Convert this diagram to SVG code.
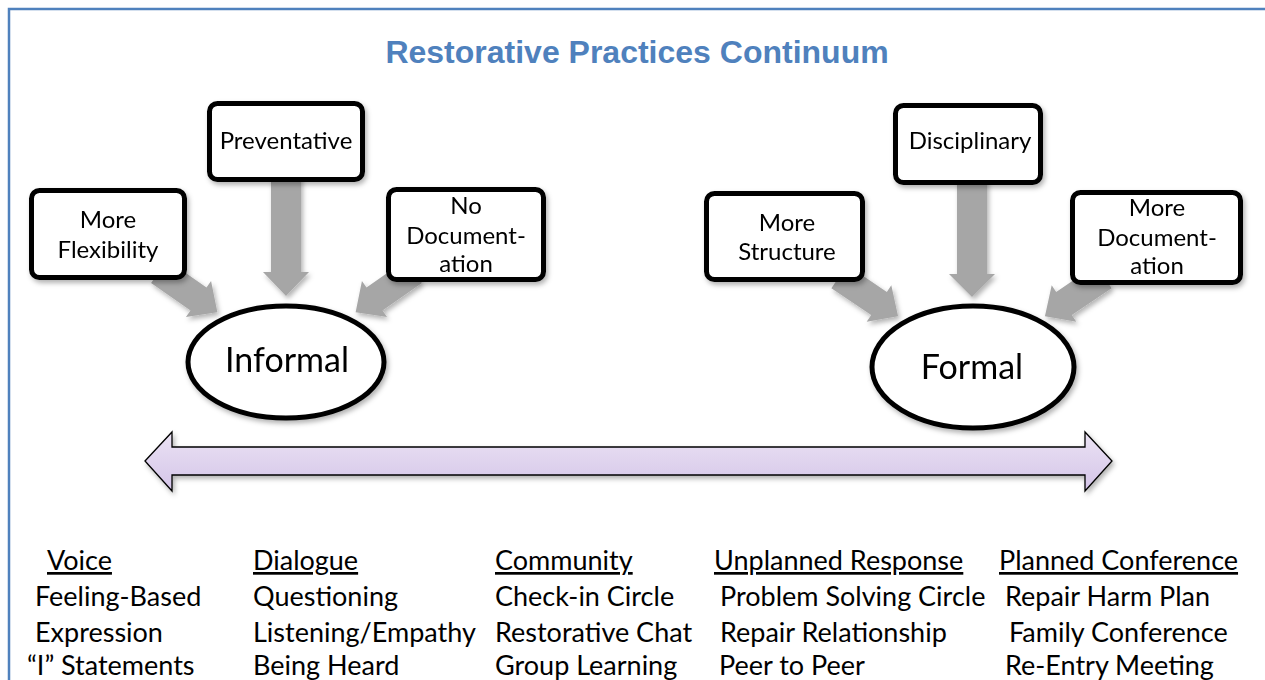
<svg xmlns="http://www.w3.org/2000/svg" width="1265" height="680" viewBox="0 0 1265 680">
<style>
.box{fill:#fff;stroke:#000;stroke-width:5}
.ell{fill:#fff;stroke:#000;stroke-width:5}
.arr{fill:#a6a6a6}
.bt{font-family:Lato,"Open Sans",sans-serif;font-size:24px;fill:#000;text-anchor:middle}
.et{font-family:Lato,"Open Sans",sans-serif;font-size:34px;fill:#000;text-anchor:middle}
.lt{font-family:Lato,"Open Sans",sans-serif;font-size:27px;fill:#000}
.hd{text-decoration:underline}
.title{font-family:"Liberation Sans",Arial,sans-serif;font-weight:bold;font-size:32px;fill:#4f81bd;text-anchor:middle}
</style>
<defs>
<filter id="sh" x="-20%" y="-20%" width="150%" height="150%">
<feDropShadow dx="2" dy="3" stdDeviation="2.5" flood-color="#000" flood-opacity="0.3"/>
</filter>
<linearGradient id="lav" x1="0" y1="0" x2="0" y2="1">
<stop offset="0" stop-color="#ebe3f4"/>
<stop offset="1" stop-color="#d4c4e8"/>
</linearGradient>
<polygon id="diag" points="-48,-14 0,-14 0,-22 23,0 0,22 0,14 -48,14"/>
</defs>
<rect width="1265" height="680" fill="#fff"/>
<path d="M9,680 V9 H1265" fill="none" stroke="#4f81bd" stroke-width="2.5"/>
<text class="title" x="637" y="63">Restorative Practices Continuum</text>

<g id="connectors" filter="url(#sh)">
<polygon class="arr" points="271,175 301,175 301,272 309,272 286,296 263,272 271,272"/>
<use href="#diag" class="arr" transform="translate(198.5,299) rotate(34.8)"/>
<use href="#diag" class="arr" transform="translate(374.5,299) rotate(145.2)"/>
<polygon class="arr" points="957,178 987,178 987,274 995,274 972,297 949,274 957,274"/>
<use href="#diag" class="arr" transform="translate(879,303.5) rotate(34)"/>
<use href="#diag" class="arr" transform="translate(1064,303.5) rotate(146)"/>
</g>

<g id="flexibility" filter="url(#sh)">
<rect class="box" x="31.5" y="190.5" width="153" height="87" rx="8"/>
<text class="bt" x="108" y="228">More</text>
<text class="bt" x="108" y="258">Flexibility</text>
</g>
<g id="preventative" filter="url(#sh)">
<rect class="box" x="209.5" y="103.5" width="153" height="76" rx="8"/>
<text class="bt" x="286" y="149">Preventative</text>
</g>
<g id="nodoc" filter="url(#sh)">
<rect class="box" x="388.5" y="189.5" width="155" height="90" rx="8"/>
<text class="bt" x="466" y="214">No</text>
<text class="bt" x="466" y="244">Document-</text>
<text class="bt" x="466" y="272">ation</text>
</g>
<g id="informal" filter="url(#sh)">
<ellipse class="ell" cx="286" cy="362" rx="98" ry="56"/>
<text class="et" x="287" y="372">Informal</text>
</g>

<g id="structure" filter="url(#sh)">
<rect class="box" x="706.5" y="193.5" width="156" height="86" rx="8"/>
<text class="bt" x="787" y="231">More</text>
<text class="bt" x="787" y="260">Structure</text>
</g>
<g id="disciplinary" filter="url(#sh)">
<rect class="box" x="895.5" y="105.5" width="145" height="77" rx="8"/>
<text class="bt" x="970" y="149">Disciplinary</text>
</g>
<g id="moredoc" filter="url(#sh)">
<rect class="box" x="1072.5" y="192.5" width="168" height="90" rx="8"/>
<text class="bt" x="1157" y="216">More</text>
<text class="bt" x="1157" y="246">Document-</text>
<text class="bt" x="1157" y="274">ation</text>
</g>
<g id="formal" filter="url(#sh)">
<ellipse class="ell" cx="973" cy="367" rx="101" ry="61"/>
<text class="et" x="972" y="379">Formal</text>
</g>

<g id="continuum" filter="url(#sh)">
<polygon points="145,461 172,432 172,447 1085,447 1085,432 1112,461 1085,491 1085,475 172,475 172,491" fill="url(#lav)" stroke="#000" stroke-width="1.3" stroke-linejoin="miter"/>
</g>

<g id="voice">
<text class="lt hd" x="47" y="570">Voice</text>
<text class="lt" x="35" y="606">Feeling-Based</text>
<text class="lt" x="35" y="642">Expression</text>
<text class="lt" x="27" y="675">“I” Statements</text>
</g>
<g id="dialogue">
<text class="lt hd" x="253" y="570">Dialogue</text>
<text class="lt" x="253" y="606">Questioning</text>
<text class="lt" x="253" y="642">Listening/Empathy</text>
<text class="lt" x="253" y="675">Being Heard</text>
</g>
<g id="community">
<text class="lt hd" x="495" y="570">Community</text>
<text class="lt" x="495" y="606">Check-in Circle</text>
<text class="lt" x="495" y="642">Restorative Chat</text>
<text class="lt" x="495" y="675">Group Learning</text>
</g>
<g id="unplanned">
<text class="lt hd" x="714" y="570">Unplanned Response</text>
<text class="lt" x="720" y="606">Problem Solving Circle</text>
<text class="lt" x="720" y="642">Repair Relationship</text>
<text class="lt" x="719" y="675">Peer to Peer</text>
</g>
<g id="planned">
<text class="lt hd" x="999" y="570">Planned Conference</text>
<text class="lt" x="1005" y="606">Repair Harm Plan</text>
<text class="lt" x="1009" y="642">Family Conference</text>
<text class="lt" x="1005" y="675">Re-Entry Meeting</text>
</g>
</svg>
